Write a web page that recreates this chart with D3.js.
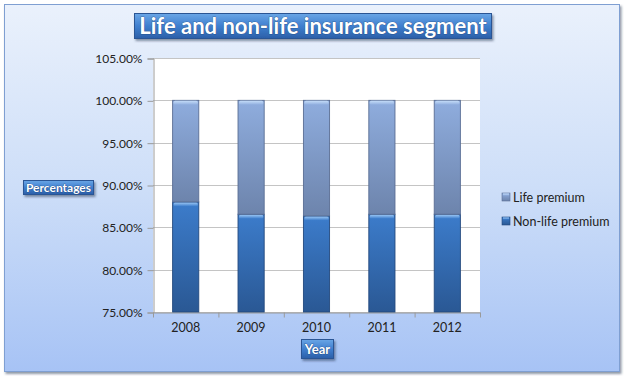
<!DOCTYPE html>
<html>
<head>
<meta charset="utf-8">
<script src="https://cdn.jsdelivr.net/npm/d3@7"></script>
<style>
  body { margin:0; background:#fff; }
  svg { display:block; font-family:Lato, "Open Sans", sans-serif; }
</style>
</head>
<body>
<svg id="chart" width="624" height="379"></svg>
<script>
// values (percent of total premium)
var years = ["2008","2009","2010","2011","2012"];
var nonLife = [88.0, 86.55, 86.35, 86.55, 86.55];
var life = [12.0, 13.45, 13.65, 13.45, 13.45];
var yTicks = [75, 80, 85, 90, 95, 100, 105];
var seriesNames = ["Non-life premium", "Life premium"];

var svg = d3.select("#chart");
var defs = svg.append("defs");

function grad(id, stops) {
  var g = defs.append("linearGradient").attr("id", id)
    .attr("x1",0).attr("y1",0).attr("x2",0).attr("y2",1);
  stops.forEach(function(s) {
    g.append("stop").attr("offset", s[0]).attr("stop-color", s[1]);
  });
}
grad("bg", [[0,"#eaf1fc"],[0.5,"#cddef8"],[1,"#a7c3f5"]]);
grad("boxg", [[0,"#6aa6e6"],[0.5,"#3f7fcf"],[1,"#2b5fa8"]]);
grad("nl", [[0,"#3c7ccb"],[1,"#2a5894"]]);
grad("lf", [[0,"#8fadde"],[1,"#6d84ac"]]);
grad("nlcap", [[0,"#9cc8f5"],[1,"#3c7ccb"]]);
grad("lfcap", [[0,"#c4dcf8"],[1,"#8fadde"]]);

var sh = defs.append("filter").attr("id","shadow").attr("x","-10%").attr("y","-30%").attr("width","130%").attr("height","180%");
sh.append("feDropShadow").attr("dx",1.5).attr("dy",2).attr("stdDeviation",1.2).attr("flood-color","#203050").attr("flood-opacity",0.5);

// chart area background
svg.append("rect").attr("x",4.5).attr("y",4.5).attr("width",615).attr("height",367)
  .attr("fill","url(#bg)").attr("stroke","#7f9fd2").attr("stroke-width",1)
  .attr("filter","url(#shadow)");

var pLeft = 153, pRight = 480, pTop = 58, pBottom = 312;

var x = d3.scaleBand().domain(years).range([pLeft, pRight]).paddingInner(0.6).paddingOuter(0.3);
var y = d3.scaleLinear().domain([75, 105]).range([pBottom, pTop]);

// plot area
svg.append("rect").attr("x",pLeft).attr("y",pTop).attr("width",pRight-pLeft).attr("height",pBottom-pTop).attr("fill","#fff");

svg.append("g").selectAll("line").data(yTicks).enter().append("line")
  .attr("x1",pLeft).attr("x2",pRight)
  .attr("y1",function(d){ return Math.round(y(d))+0.5; })
  .attr("y2",function(d){ return Math.round(y(d))+0.5; })
  .attr("stroke","#c4c4c4").attr("stroke-width",1.2);

// y axis
var yAxis = d3.axisLeft(y).tickValues(yTicks).tickSize(6).tickPadding(5)
  .tickFormat(function(d){ return d.toFixed(2) + "%"; });
var gy = svg.append("g").attr("transform","translate(" + (pLeft+0.5) + ",0.5)").call(yAxis);
gy.select(".domain").attr("stroke","#9a9a9a");
gy.selectAll(".tick line").attr("stroke","#9a9a9a");
gy.selectAll("text").attr("font-size",12).attr("fill","#222").attr("font-family","Lato, sans-serif");

// x axis
var gx = svg.append("g").attr("transform","translate(0," + (pBottom+0.5) + ")")
  .call(d3.axisBottom(x).tickSize(0).tickPadding(11));
gx.select(".domain").attr("stroke","#9a9a9a");
gx.selectAll("text").attr("font-size",12.5).attr("fill","#222").attr("font-family","Lato, sans-serif");
var step = x.step();
gx.selectAll(".sep").data(d3.range(years.length + 1)).enter().append("line")
  .attr("x1",function(i){ return pLeft + i*step + 0.5; })
  .attr("x2",function(i){ return pLeft + i*step + 0.5; })
  .attr("y1",0).attr("y2",5).attr("stroke","#9a9a9a");

// stacked bars
var rows = years.map(function(yr, i) {
  return { year: yr, "Non-life premium": nonLife[i], "Life premium": life[i] };
});
var stacked = d3.stack().keys(seriesNames)(rows);
var fills = { "Non-life premium": ["url(#nl)","url(#nlcap)","#23497e"],
              "Life premium": ["url(#lf)","url(#lfcap)","#5a6e94"] };

stacked.forEach(function(s) {
  var key = s.key;
  var segs = svg.append("g").selectAll("g").data(s).enter().append("g");
  segs.append("rect")
    .attr("x",function(d){ return x(d.data.year); })
    .attr("width",x.bandwidth())
    .attr("y",function(d){ return y(Math.min(d[1],105)); })
    .attr("height",function(d){ return y(Math.max(d[0],75)) - y(Math.min(d[1],105)); })
    .attr("fill",fills[key][0])
    .attr("stroke",fills[key][2]).attr("stroke-width",0.9);
  segs.append("rect")
    .attr("x",function(d){ return x(d.data.year) + 1; })
    .attr("width",x.bandwidth() - 2)
    .attr("y",function(d){ return y(Math.min(d[1],105)) + 0.5; })
    .attr("height",4).attr("rx",1.5)
    .attr("fill",fills[key][1]);
});

// boxed labels
function labelBox(x0, y0, w, h, txt, size) {
  var g = svg.append("g");
  g.append("rect").attr("x",x0+0.5).attr("y",y0+0.5).attr("width",w).attr("height",h)
    .attr("fill","url(#boxg)").attr("stroke","#2a5594").attr("stroke-width",1)
    .attr("filter","url(#shadow)");
  g.append("text").attr("x",x0 + w/2 + 0.5).attr("y",y0 + h/2 + 0.5).attr("dy","0.36em")
    .attr("text-anchor","middle").attr("fill","#fff")
    .attr("font-weight",700).attr("font-size",size)
    .attr("style","paint-order:stroke").attr("stroke","#1d3f72").attr("stroke-width",0.6)
    .text(txt);
  return g;
}
labelBox(134, 13, 357, 25, "Life and non-life insurance segment", 22);
labelBox(23, 180, 70, 14, "Percentages", 12);
labelBox(301, 339, 32, 19, "Year", 13);

// legend (life first, like the picture)
var legendItems = ["Life premium", "Non-life premium"];
var lg = svg.append("g").selectAll("g").data(legendItems).enter().append("g")
  .attr("transform",function(d,i){ return "translate(502," + (193 + i*24) + ")"; });
lg.append("rect").attr("width",8).attr("height",8)
  .attr("fill",function(d){ return fills[d][0]; })
  .attr("stroke",function(d){ return fills[d][2]; }).attr("stroke-width",0.6);
lg.append("rect").attr("x",1).attr("y",0.5).attr("width",6).attr("height",2)
  .attr("fill",function(d){ return fills[d][1]; });
lg.append("text").attr("x",11).attr("y",4).attr("dy","0.36em")
  .attr("font-size",12.5).attr("fill","#222").text(function(d){ return d; });
</script>
</body>
</html>
